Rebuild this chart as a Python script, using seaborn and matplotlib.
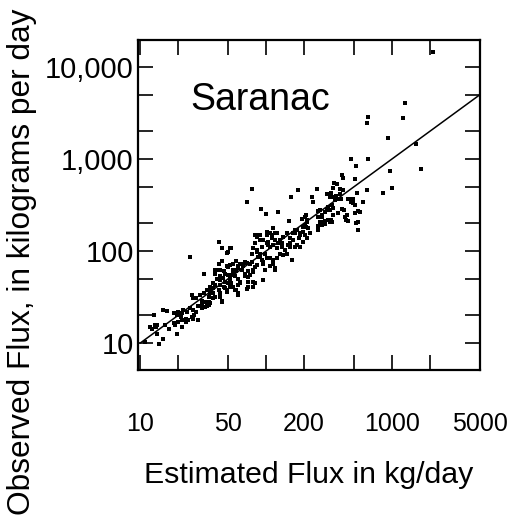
import matplotlib
matplotlib.use("Agg")
import matplotlib.pyplot as plt
import seaborn as sns
import pandas as pd

# Estimated (x) and observed (y) daily flux, kg/day
est_flux = [
    2128, 1268, 1215, 649, 637, 935, 1541, 1689, 649, 964, 994, 854, 470, 518, 508, 399,
    347, 364, 387, 411, 342, 328, 387, 342, 353, 382, 630, 530, 484, 592, 470, 493, 540,
    508, 518, 534, 399, 437, 429, 450, 375, 342, 312, 294, 268, 260, 268, 294, 312, 326,
    277, 260, 294, 238, 233, 253, 178, 158, 125, 91, 99, 78, 71,
    406, 424, 557, 285, 322, 207, 210, 204, 198, 333, 359, 394, 488, 508, 419, 260, 277,
    153, 192, 204, 213, 198, 217, 175, 165, 186, 204, 181, 165, 155, 175, 186, 146, 137,
    129, 122, 114, 108, 111, 101, 90, 84, 82, 95, 101, 108, 114, 122, 133, 142, 137, 146,
    155, 129, 122, 114, 118, 108, 95, 101, 98, 90, 84, 79, 77, 87, 92, 84, 95, 79, 75, 72,
    70, 79, 82, 68, 66, 64, 60, 58, 55, 57, 62, 52, 50, 55, 58, 60, 49, 46, 43, 41, 43, 46,
    49, 52, 55, 58, 62, 42, 39, 42, 44.5, 38, 36, 34, 36, 38, 43, 44.5, 35, 33, 32, 30, 28,
    31, 35, 29, 26, 32, 42, 44.5, 50, 25, 160,
    101, 111, 118, 170, 53, 49, 82, 92, 104, 125, 84, 90, 95, 108, 114, 118, 98, 82, 75, 68,
    50, 57, 64, 72, 68, 60, 53, 47, 79, 72, 60, 53, 47, 43, 39, 42, 49, 60, 36, 38, 44.5,
    31, 34, 36,
    28, 26.5, 25, 23.5, 22, 21.4, 20, 19.5, 21, 23, 24, 26, 27, 29, 23, 21.4, 20, 18.4,
    15.3, 16.3, 16.8, 19.5, 18.4, 19, 15.8, 15.3, 14, 13.6, 13, 12.9, 12.4, 12, 11, 13.6,
    51.8, 49.3, 43.2, 39.4, 45.8, 50.2, 55, 60.3, 66.1, 70.2, 76.9, 79.3, 72.4, 62.2, 56.8,
    51.8, 47.3, 43.2, 38.2, 39.4, 34.9, 32.8, 30.9, 26.5, 26.5, 21.4, 13.3,
    207, 303, 322, 332, 450, 478, 303, 277, 260, 322, 342, 534, 186, 170, 155, 83, 90, 104,
    118, 133, 150, 170, 198, 210, 223,
]
obs_flux = [
    14680, 4027, 2767, 2884, 2443, 1706, 1443, 778, 991, 747, 480, 424, 991, 846, 606, 670,
    544, 531, 472, 460, 480, 424, 417, 390, 359, 365, 460, 424, 359, 344, 338, 330, 274,
    261, 203, 169, 286, 246, 217, 214, 257, 291, 303, 268, 279, 236, 208, 214, 217, 217,
    192, 169, 197, 344, 390, 472, 460, 390, 263, 284, 250, 476, 338,
    617, 236, 268, 208, 279, 246, 217, 192, 162, 208, 396, 371, 371, 318, 279, 274, 246,
    214, 223, 236, 208, 184, 176, 169, 156, 156, 149, 137, 132, 121, 116, 111, 156, 143,
    132, 156, 179, 156, 137, 149, 149, 143, 149, 132, 121, 111, 116, 107, 111, 102, 90, 94,
    111, 94, 83, 80, 65, 68, 73, 83, 94, 94, 102, 107, 94, 87, 80, 70, 48, 62, 55, 46,
    39, 41, 45, 57, 68, 73, 68, 60, 62, 53, 46, 50, 45, 41, 38, 35, 38, 41, 43, 50, 53, 60,
    68, 70, 73, 77, 73, 62, 57, 73, 77, 45, 41, 38, 35, 35, 32, 28, 32, 28, 35, 33, 31,
    26, 26, 25, 33, 57, 126, 107, 98, 87, 80,
    162, 149, 156, 156, 107, 96, 121, 111, 116, 121, 98, 87, 76.5, 83, 73, 62, 62, 67.5, 73,
    76.5, 67.5, 62, 62, 60, 53, 50, 55, 57, 46, 41, 43, 44.5, 46, 48, 43, 38, 36, 33, 38,
    31, 29, 29, 25, 27,
    22, 23, 24, 22, 23, 21, 22, 20, 19.3, 18.5, 18, 19.3, 20, 18, 17, 18, 17, 21,
    23, 22.4, 14.4, 12.7, 16.4, 15.7, 15.7, 11.2, 9.9, 12.7, 15.7, 20, 14.4, 15, 10.3, 15.7,
    107, 96, 63, 62, 50.4, 54.8, 59.6, 64.8, 70.4, 73.4, 76.5, 59.6, 52.6, 44.5, 37.7,
    40.9, 39.3, 34.7, 39.3, 31.9, 28.1, 24.8, 23.8, 30.6, 18.5, 15.1, 15.1,
    184, 417, 383, 316, 365, 371, 279, 236, 187, 208, 246, 208, 149, 169, 137, 149, 132, 126,
    132, 121, 116, 111, 126, 137, 156,
]

line_x = [10, 5000]
line_y = [10, 5000]

x_ticks = [10, 20, 50, 100, 200, 500, 1000, 2000, 5000]
x_labels = ["10", "", "50", "", "200", "", "1000", "", "5000"]
y_ticks = [10, 20, 50, 100, 200, 500, 1000, 2000, 5000, 10000]
y_labels = ["10", "", "", "100", "", "", "1,000", "", "", "10,000"]

df = pd.DataFrame({"est": est_flux, "obs": obs_flux})

sns.set_style("ticks")
plt.rcParams.update({
    "font.family": ["Liberation Sans", "DejaVu Sans"],
    "axes.axisbelow": False,
    "axes.edgecolor": "black", "axes.linewidth": 1.6,
})

fig = plt.figure(figsize=(5.12, 5.23), dpi=100)
ax = fig.add_axes([0.2705, 0.2925, 0.667, 0.631])

sns.scatterplot(data=df, x="est", y="obs", marker="s", s=10, color="black",
                linewidth=0, ax=ax, legend=False)
sns.lineplot(x=line_x, y=line_y, color="black", linewidth=1.1, ax=ax)

ax.set_xscale("log")
ax.set_yscale("log")
ax.set_xlim(9.7, 5000)
ax.set_ylim(5.1, 19600)

ax.set_xticks(x_ticks)
ax.set_xticklabels(x_labels)
ax.set_yticks(y_ticks)
ax.set_yticklabels(y_labels)
ax.minorticks_off()

ax.tick_params(axis="x", which="major", direction="in", length=11, width=1.2,
               bottom=True, top=True, pad=30, labelsize=18, color="black",
               labelcolor="black", zorder=5)
ax.tick_params(axis="y", which="major", direction="in", length=11, width=1.2,
               left=True, right=True, pad=3.5, labelsize=21, color="black",
               labelcolor="black", zorder=5)

for sp in ax.spines.values():
    sp.set_visible(True)

ax.set_xlabel("")
ax.set_ylabel("")
ax.text(0.151, 0.818, "Saranac", transform=ax.transAxes, fontsize=27,
        ha="left", va="center", color="black")

fig.text(309 / 512, 1 - 475 / 523, "Estimated Flux in kg/day", fontsize=21.8,
         ha="center", va="center", color="black")
fig.text(22 / 512, 0.5, "Observed Flux, in kilograms per day", fontsize=22.8,
         rotation=90, ha="center", va="center", color="black")

fig.savefig("out.png", dpi=100, facecolor="white")
